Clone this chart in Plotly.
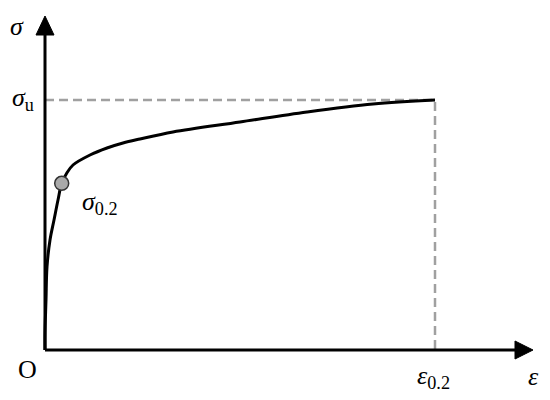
import plotly.graph_objects as go

# stress-strain curve (arbitrary units, origin at O)
strain = [0, 0, 1, 2, 5, 9, 13, 16.7, 21.7, 28, 45, 62, 78, 95, 128, 195, 262, 328, 390]
stress = [0, 17, 50, 83, 110, 130, 150, 166.7, 176.7, 185, 195, 202, 207, 211, 218, 228, 238, 246, 250]

proof_strain = 16.7   # sigma_0.2 point
proof_stress = 166.7
ult_strain = 390      # epsilon_0.2
ult_stress = 250      # sigma_u

serif = "Liberation Serif, Times New Roman, serif"

fig = go.Figure()

# dashed guides
fig.add_trace(go.Scatter(x=[0, ult_strain, ult_strain], y=[ult_stress, ult_stress, 0],
                         mode="lines", line=dict(color="#a0a0a0", width=2.5, dash="9px,5px"),
                         hoverinfo="skip"))

fig.add_trace(go.Scatter(x=strain, y=stress, mode="lines",
                         line=dict(color="black", width=3, shape="spline", smoothing=1),
                         hoverinfo="skip"))

fig.add_trace(go.Scatter(x=[proof_strain], y=[proof_stress], mode="markers",
                         marker=dict(size=14, color="#a9a9a9", line=dict(color="#333333", width=1.5)),
                         hoverinfo="skip"))

# axes with arrow heads
fig.add_shape(type="line", x0=0, y0=0, x1=475, y1=0, line=dict(color="black", width=3))
fig.add_shape(type="line", x0=0, y0=0, x1=0, y1=320, line=dict(color="black", width=3))
fig.add_shape(type="path", path="M 470 -9 L 488 0 L 470 9 Z",
              fillcolor="black", line=dict(color="black", width=1))
fig.add_shape(type="path", path="M -9 315 L 0 334 L 9 315 Z",
              fillcolor="black", line=dict(color="black", width=1))

labels = [
    (-28, 324, "center", "<i>σ</i>"),
    (-35, 251, "left", "<i>σ</i><sub>u</sub>"),
    (35, 147, "left", "<i>σ</i><sub>0.2</sub>"),
    (-18, -19, "center", "O"),
    (370, -27, "left", "<i>ε</i><sub>0.2</sub>"),
    (488, -26, "center", "<i>ε</i>"),
]
for x, y, anchor, t in labels:
    fig.add_annotation(x=x, y=y, text=t, showarrow=False, xanchor=anchor, yanchor="middle",
                       font=dict(family=serif, size=26, color="black"))

fig.update_layout(
    width=542, height=392,
    margin=dict(l=0, r=0, t=0, b=0),
    paper_bgcolor="white", plot_bgcolor="white",
    showlegend=False,
    xaxis=dict(range=[-37, 505], visible=False, fixedrange=True),
    yaxis=dict(range=[-50, 342], visible=False, fixedrange=True),
)
fig.update_traces(cliponaxis=False)

fig.write_html("out.html")
